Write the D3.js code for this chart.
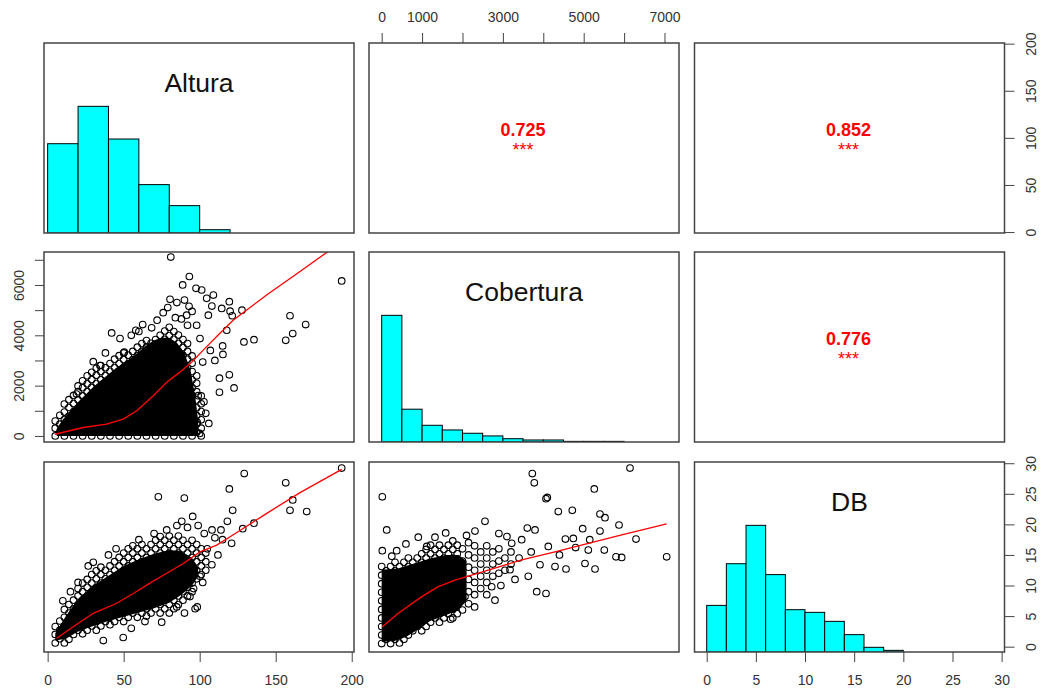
<!DOCTYPE html>
<html>
<head>
<meta charset="utf-8">
<script src="https://cdnjs.cloudflare.com/ajax/libs/d3/7.8.5/d3.min.js"></script>
<style>
  body { margin: 0; background: #fff; }
  text { font-family: "Liberation Sans", Arial, sans-serif; }
</style>
</head>
<body>
<div id="pairs"></div>
<script>
// variable names on the diagonal
var varNames = ["Altura", "Cobertura", "DB"];

// correlations (upper panels): [row, col, r, stars]
var corrs = [[0, 1, "0.725", "***"], [0, 2, "0.852", "***"], [1, 2, "0.776", "***"]];

// histograms, bar heights relative to the tallest bar
var alturaBreaks = [0, 20, 40, 60, 80, 100, 120];
var alturaHist = [0.705, 1, 0.742, 0.382, 0.216, 0.026];
var coberturaBreaks = [0, 500, 1000, 1500, 2000, 2500, 3000, 3500, 4000, 4500, 5000, 5500, 6000];
var coberturaHist = [1, 0.259, 0.132, 0.095, 0.069, 0.048, 0.026, 0.016, 0.016, 0.005, 0.005, 0.005];
var dbBreaks = [0, 2, 4, 6, 8, 10, 12, 14, 16, 18, 20];
var dbHist = [0.368, 0.697, 1, 0.611, 0.334, 0.313, 0.242, 0.137, 0.037, 0.013];

// tick values and the ones that get a label
var alturaTicks = [0, 50, 100, 150, 200];
var coberturaTicks = [0, 1000, 2000, 3000, 4000, 5000, 6000, 7000];
var coberturaTopLabels = [0, 1000, 3000, 5000, 7000];
var coberturaLeftLabels = [0, 2000, 4000, 6000];
var dbTicks = [0, 5, 10, 15, 20, 25, 30];

// Altura vs Cobertura
// core: outline of the overplotted area where the circles merge into solid black
var altCobCore = [[6, 0], [6, 300], [10, 650], [15, 1000], [20, 1350], [25, 1650], [30, 1950], [35, 2200],
  [40, 2450], [45, 2700], [50, 2900], [55, 3100], [60, 3350], [65, 3600], [70, 3800], [75, 3900], [80, 3900],
  [85, 3700], [90, 3300], [94, 2600], [97, 1600], [99, 600], [99, 0]];
// cloud as [Altura, [Cobertura values]] columns
var altCobCloud = [
  [5, [0, 310, 590]],
  [8, [150, 470, 820]],
  [11, [0, 330, 650, 950, 1270]],
  [14, [170, 480, 790, 1130, 1440]],
  [17, [0, 320, 630, 960, 1290, 1610]],
  [20, [160, 490, 800, 1110, 1440, 1760, 1990]],
  [23, [0, 330, 640, 970, 1280, 1590, 1920, 2190]],
  [26, [150, 480, 810, 1120, 1450, 1760, 2070, 2390]],
  [29, [0, 320, 650, 960, 1270, 1600, 1930, 2240, 2530]],
  [32, [170, 470, 800, 1130, 1440, 1750, 2080, 2410, 2690]],
  [35, [0, 330, 640, 950, 1280, 1610, 1920, 2230, 2560, 2800]],
  [38, [160, 490, 790, 1120, 1450, 1760, 2090, 2400, 2710]],
  [41, [0, 310, 640, 970, 1280, 1590, 1920, 2250, 2570, 2880]],
  [44, [150, 480, 810, 1110, 1440, 1770, 2080, 2390, 2720, 3050]],
  [47, [0, 330, 650, 960, 1270, 1600, 1930, 2240, 2550, 2880, 3190]],
  [50, [170, 480, 790, 1120, 1450, 1760, 2070, 2400, 2730, 3040, 3300]],
  [53, [0, 320, 640, 950, 1290, 1600, 1910, 2240, 2570, 2880, 3210]],
  [56, [160, 470, 800, 1130, 1440, 1750, 2080, 2410, 2720, 3030, 3360]],
  [59, [0, 330, 650, 960, 1270, 1590, 1920, 2250, 2560, 2870, 3200, 3530]],
  [62, [150, 490, 800, 1110, 1440, 1770, 2080, 2390, 2720, 3050, 3360, 3670]],
  [65, [0, 310, 640, 970, 1280, 1590, 1920, 2250, 2560, 2870, 3200, 3530, 3790]],
  [68, [170, 480, 790, 1120, 1450, 1760, 2070, 2400, 2730, 3040, 3350, 3680]],
  [71, [0, 320, 650, 960, 1270, 1600, 1930, 2240, 2550, 2880, 3210, 3520, 3830]],
  [74, [160, 490, 800, 1110, 1440, 1770, 2080, 2390, 2720, 3050, 3360, 3670, 4000]],
  [77, [0, 330, 640, 950, 1280, 1610, 1920, 2230, 2560, 2890, 3200, 3510, 3840, 4170]],
  [80, [150, 480, 810, 1120, 1430, 1760, 2090, 2400, 2710, 3040, 3370, 3680, 3990, 4320]],
  [83, [0, 310, 640, 970, 1280, 1590, 1920, 2250, 2560, 2870, 3200, 3530, 3840, 4150]],
  [86, [170, 480, 790, 1120, 1450, 1760, 2070, 2400, 2730, 3040, 3350, 3680, 4010]],
  [89, [0, 320, 650, 960, 1270, 1600, 1930, 2240, 2550, 2880, 3210, 3520, 3830]],
  [92, [160, 490, 800, 1110, 1440, 1770, 2080, 2390, 2720, 3050, 3360, 3670]],
  [95, [0, 330, 640, 950, 1280, 1610, 1920, 2230, 2560, 2890, 3180]],
  [98, [150, 480, 810, 1120, 1430, 1760, 2090, 2390]],
  [101, [0, 310, 640, 970, 1280, 1590]]
];
// scattered points
var altCobPts = [[81, 7108], [93.2, 6336], [88.8, 6000], [80.5, 5428], [97.6, 5868], [101.3, 5800], [109, 5600],
  [104.6, 5468], [108, 5160], [119.5, 5336], [114.5, 5068], [120, 4960], [121.4, 4776], [127.8, 5000], [105.7, 4800],
  [193.4, 6160], [159.4, 4776], [169.7, 4428], [161.2, 4068], [156.6, 3800], [135.7, 3828], [129.1, 3736], [117.8, 4200],
  [115.3, 3240], [115.1, 3576], [119.5, 2428], [113, 2296], [122.6, 1908], [113, 1736], [102.8, 1360], [102, 2936],
  [98.4, 536], [95.8, 200], [62.5, 4428], [68.4, 4296], [42.1, 4096], [47.6, 3868], [50.4, 3336], [34.4, 2800],
  [19, 1668], [91.4, 4800], [88, 4650], [98, 4400], [100.2, 3868], [85, 5300], [90, 5400], [93, 5150], [95, 4950],
  [84, 4700], [92, 4400], [30, 2950], [38, 3300], [55, 4000], [60, 4150], [104, 900], [100, 100], [106, 500],
  [99, 1600], [110, 3000], [107, 3400], [58, 4200], [72, 4600], [76, 4900], [79, 5100]];
var altCobLine = [[4.8, 68], [23.4, 336], [38.8, 468], [49.7, 668], [58.6, 1000], [69.5, 1600], [78.3, 2136],
  [87, 2536], [95, 2950], [103, 3450], [112, 4000], [122, 4600], [144, 5600], [166, 6536], [193, 7700]];

// Altura vs DB
var altDbCore = [[5, 2.2], [12, 5], [20, 7.8], [30, 10], [40, 11.6], [50, 13.2], [60, 14.3], [70, 15.2],
  [80, 15.8], [88, 15.6], [95, 14.5], [99, 13], [99, 11.5], [95, 10], [88, 8.5], [80, 7.2], [70, 6.3], [60, 5.6],
  [50, 4.9], [40, 4.2], [30, 3.4], [20, 2.5], [12, 1.3], [5, 1.0]];
var altDbCloud = [
  [5, [0.6, 2.0, 3.3]],
  [8, [1.3, 2.7, 4.2]],
  [11, [0.6, 2.0, 3.4, 4.8, 6.1]],
  [14, [1.2, 2.7, 4.1, 5.5, 6.9]],
  [17, [2.0, 3.4, 4.8, 6.2, 7.6]],
  [20, [2.7, 4.1, 5.5, 6.9, 8.3, 9.5]],
  [23, [2.1, 3.4, 4.8, 6.2, 7.6, 9.0, 10.4]],
  [26, [2.7, 4.1, 5.5, 6.9, 8.3, 9.7, 11.0]],
  [29, [3.4, 4.8, 6.2, 7.6, 9.0, 10.4, 11.8]],
  [32, [2.7, 4.1, 5.5, 6.9, 8.3, 9.7, 11.1, 12.4]],
  [35, [3.4, 4.8, 6.2, 7.6, 9.0, 10.4, 11.8, 13.0]],
  [38, [4.1, 5.5, 6.9, 8.3, 9.7, 11.1, 12.5]],
  [41, [3.6, 4.8, 6.2, 7.6, 9.0, 10.4, 11.8, 13.2]],
  [44, [4.1, 5.5, 6.9, 8.3, 9.7, 11.1, 12.5, 13.9]],
  [47, [4.8, 6.2, 7.6, 9.0, 10.4, 11.8, 13.2, 14.6]],
  [50, [4.1, 5.5, 6.9, 8.3, 9.7, 11.1, 12.5, 13.9, 15.3]],
  [53, [4.8, 6.2, 7.6, 9.0, 10.4, 11.8, 13.2, 14.6, 16.0]],
  [56, [5.5, 6.9, 8.3, 9.7, 11.1, 12.5, 13.9, 15.3, 16.5]],
  [59, [4.8, 6.2, 7.6, 9.0, 10.4, 11.8, 13.2, 14.6, 16.0]],
  [62, [5.5, 6.9, 8.3, 9.7, 11.1, 12.5, 13.9, 15.3, 16.7]],
  [65, [5.0, 6.2, 7.6, 9.0, 10.4, 11.8, 13.2, 14.6, 16.0]],
  [68, [5.5, 6.9, 8.3, 9.7, 11.1, 12.5, 13.9, 15.3, 16.7]],
  [71, [6.2, 7.6, 9.0, 10.4, 11.8, 13.2, 14.6, 16.0, 17.4]],
  [74, [5.5, 6.9, 8.3, 9.7, 11.1, 12.5, 13.9, 15.3, 16.7, 18.0]],
  [77, [6.2, 7.6, 9.0, 10.4, 11.8, 13.2, 14.6, 16.0, 17.4]],
  [80, [5.5, 6.9, 8.3, 9.7, 11.1, 12.5, 13.9, 15.3, 16.7, 18.1]],
  [83, [6.2, 7.6, 9.0, 10.4, 11.8, 13.2, 14.6, 16.0, 17.4]],
  [86, [6.9, 8.3, 9.7, 11.1, 12.5, 13.9, 15.3, 16.7, 18.1]],
  [89, [7.6, 9.0, 10.4, 11.8, 13.2, 14.6, 16.0, 17.4]],
  [92, [8.3, 9.7, 11.1, 12.5, 13.9, 15.3, 16.7]],
  [95, [9.0, 10.4, 11.8, 13.2, 14.6, 16.0, 17.4]],
  [98, [11.1, 12.5, 13.9, 15.3, 16.7]],
  [101, [11.8, 13.2, 14.6, 16.0]],
  [104, [12.5, 13.9, 15.3]]
];
var altDbPts = [[72.8, 24.5], [89.9, 24.3], [129.3, 28.3], [119.5, 25.8], [121.7, 22.3], [156.6, 26.8], [161.2, 24],
  [159.4, 22.3], [170.4, 22.1], [193.4, 29.2], [135.7, 20.2], [128.3, 19.3], [118.2, 20.5], [114, 19.1], [121, 16.9],
  [108.1, 19.1], [95.4, 21.3], [88.2, 20.5], [78.3, 19.1], [26.7, 13.2], [98.4, 6.5], [97, 6.2], [93.6, 8.2],
  [84.9, 6.5], [64, 4.1], [49.7, 1.5], [36.6, 1], [100.2, 11.5], [108, 13.4], [105, 16], [112, 15], [103, 18.5],
  [99, 19.8], [92, 19.5], [85, 19.8], [70, 18.5], [60, 17.5], [45, 16], [40, 15], [30, 13.8], [20, 10.5], [15, 9],
  [10, 7.5], [110, 17.8], [115, 17.5], [55, 3], [75, 4], [90, 5.5], [96, 9.5], [102, 10.5]];
var altDbLine = [[5.9, 1.37], [16.8, 3.27], [30, 5.46], [45.4, 7.1], [56.3, 8.7], [67.3, 10.4], [78.3, 12],
  [89.2, 13.6], [100.2, 15.5], [111.2, 16.6], [122.1, 18.3], [144.1, 21.8], [166, 25.2], [193.4, 29]];

// Cobertura vs DB
var cobDbCore = [[0, 12.6], [400, 12.8], [800, 13.6], [1200, 14.4], [1600, 15], [1900, 15], [2100, 14],
  [2100, 7.5], [1900, 6], [1600, 5.2], [1200, 4.2], [900, 2.8], [600, 1.6], [300, 0.9], [0, 0.8]];
var cobDbCloud = [
  [0, [0.5, 1.9, 3.3, 4.7, 6.1, 7.5, 8.9, 10.3, 11.7, 13.1]],
  [110, [1.2, 2.6, 4.0, 5.4, 6.8, 8.2, 9.6, 11.0, 12.4]],
  [220, [0.5, 1.9, 3.3, 4.7, 6.1, 7.5, 8.9, 10.3, 11.7, 13.1]],
  [330, [1.2, 2.6, 4.0, 5.4, 6.8, 8.2, 9.6, 11.0, 12.4, 13.8]],
  [440, [0.6, 1.9, 3.3, 4.7, 6.1, 7.5, 8.9, 10.3, 11.7, 13.1]],
  [550, [1.2, 2.6, 4.0, 5.4, 6.8, 8.2, 9.6, 11.0, 12.4, 13.8]],
  [660, [1.9, 3.3, 4.7, 6.1, 7.5, 8.9, 10.3, 11.7, 13.1, 14.5]],
  [770, [2.6, 4.0, 5.4, 6.8, 8.2, 9.6, 11.0, 12.4, 13.8]],
  [880, [3.3, 4.7, 6.1, 7.5, 8.9, 10.3, 11.7, 13.1, 14.5]],
  [990, [2.6, 4.0, 5.4, 6.8, 8.2, 9.6, 11.0, 12.4, 13.8, 15.2]],
  [1100, [3.3, 4.7, 6.1, 7.5, 8.9, 10.3, 11.7, 13.1, 14.5, 15.9]],
  [1210, [4.0, 5.4, 6.8, 8.2, 9.6, 11.0, 12.4, 13.8, 15.2, 16.6]],
  [1320, [4.7, 6.1, 7.5, 8.9, 10.3, 11.7, 13.1, 14.5, 15.9]],
  [1430, [4.0, 5.4, 6.8, 8.2, 9.6, 11.0, 12.4, 13.8, 15.2, 16.6]],
  [1540, [4.7, 6.1, 7.5, 8.9, 10.3, 11.7, 13.1, 14.5, 15.9]],
  [1650, [5.4, 6.8, 8.2, 9.6, 11.0, 12.4, 13.8, 15.2, 16.6]],
  [1760, [4.7, 6.1, 7.5, 8.9, 10.3, 11.7, 13.1, 14.5, 15.9, 17.3]],
  [1870, [5.4, 6.8, 8.2, 9.6, 11.0, 12.4, 13.8, 15.2, 16.6]],
  [2000, [6.0, 8.0, 10.0, 12.0, 14.0, 16.0]],
  [2150, [7.0, 9.0, 11.0, 13.0, 15.0, 17.0]],
  [2300, [6.5, 8.5, 10.5, 12.5, 14.5, 16.5]],
  [2450, [9.5, 11.5, 13.5, 15.5]],
  [2600, [10.5, 12.5, 14.5, 16.5]],
  [2750, [11.5, 13.5, 15.5]],
  [2900, [12.0, 14.0, 16.0]],
  [3050, [12.5, 14.5]],
  [3200, [13.5, 15.5]]
];
var cobDbPts = [[15, 24.5], [124, 19.1], [15, 15.7], [3728, 28.3], [3777, 26.8], [4067, 24.2], [4100, 24.4],
  [6146, 29.2], [5262, 25.8], [5403, 21.7], [5527, 21.1], [4371, 22.1], [4718, 22.3], [5874, 19.9], [6295, 17.6],
  [7054, 14.7], [2557, 20.5], [2309, 18.9], [1584, 18.6], [1319, 17.9], [906, 17.9], [1114, 16.4], [371, 15.7],
  [1708, 4.5], [3837, 9], [4067, 8.7], [5280, 12.7], [4975, 19.3], [5403, 18.9], [5800, 14.7], [5940, 14.6],
  [4547, 17.6], [4743, 17.7], [5114, 15.8], [5032, 13.6], [5510, 15.8], [4562, 12.7], [4290, 13.1], [3918, 13.4],
  [3629, 11.5], [3465, 17.5], [3795, 19.1], [4124, 16.4], [3218, 16.9], [3176, 12.6], [2804, 7.6], [2722, 9.8],
  [2062, 8.2], [3604, 19.4], [4800, 16.2], [5150, 17.5], [4400, 15], [3400, 14.5], [3700, 15.5], [3300, 11],
  [2950, 10], [2600, 8.5], [600, 16.8], [250, 14.8], [2100, 18.2], [2900, 18.5], [3100, 18]];
var cobDbLine = [[15, 3.27], [411, 5.46], [990, 8.18], [1401, 9.82], [1814, 10.9], [2639, 12.5], [3465, 14.2],
  [4290, 15.5], [5114, 16.9], [5941, 18.3], [7054, 20.1]];

// layout
var width = 1043, height = 690;
var colX = [44, 369, 694.5], rowY = [43, 252, 462];
var pw = 310, ph = 190;

var svg = d3.select("#pairs").append("svg")
    .attr("width", width)
    .attr("height", height);

svg.append("defs").append("clipPath")
    .attr("id", "panel-clip")
  .append("rect")
    .attr("width", pw)
    .attr("height", ph);

// scales (one per variable and direction)
var xAlt = d3.scaleLinear().domain([-2.4, 201.5]).range([0, pw]),
    xCob = d3.scaleLinear().domain([-314, 7359]).range([0, pw]),
    xDb = d3.scaleLinear().domain([-1.24, 30.29]).range([0, pw]),
    yAlt = d3.scaleLinear().domain([-1, 200.7]).range([ph, 0]),
    yCob = d3.scaleLinear().domain([-240, 7310]).range([ph, 0]),
    yDb = d3.scaleLinear().domain([-0.87, 30.2]).range([ph, 0]),
    yHist = d3.scaleLinear().domain([0, 1.5]).range([ph, 0]);

function panel(r, c) {
  var g = svg.append("g")
      .attr("transform", "translate(" + colX[c] + "," + rowY[r] + ")");
  var inner = g.append("g").attr("clip-path", "url(#panel-clip)");
  return {outer: g, inner: inner};
}

function frame(p) {
  p.outer.append("rect")
      .attr("width", pw)
      .attr("height", ph)
      .attr("fill", "none")
      .attr("stroke", "#444")
      .attr("stroke-width", 1.5);
}

// flatten a column cloud and add the scattered points
function allPoints(cloud, extra) {
  var pts = [];
  cloud.forEach(function(col) {
    col[1].forEach(function(v) { pts.push([col[0], v]); });
  });
  return pts.concat(extra);
}

function scatter(r, c, xs, ys, core, pts, line) {
  var p = panel(r, c);
  var path = d3.line()
      .x(function(d) { return xs(d[0]); })
      .y(function(d) { return ys(d[1]); });
  // overplotted core
  p.inner.append("path")
      .datum(core)
      .attr("fill", "#000")
      .attr("d", function(d) { return path(d) + "Z"; });
  p.inner.selectAll("circle")
      .data(pts)
    .enter().append("circle")
      .attr("cx", function(d) { return xs(d[0]); })
      .attr("cy", function(d) { return ys(d[1]); })
      .attr("r", 3.3)
      .attr("fill", "none")
      .attr("stroke", "#000")
      .attr("stroke-width", 1.1);
  p.inner.append("path")
      .datum(line)
      .attr("fill", "none")
      .attr("stroke", "#ff0000")
      .attr("stroke-width", 1.3)
      .attr("d", path);
  frame(p);
}

function histPanel(i, xs, breaks, hts) {
  var p = panel(i, i);
  p.inner.selectAll("rect.bar")
      .data(hts)
    .enter().append("rect")
      .attr("class", "bar")
      .attr("x", function(d, j) { return xs(breaks[j]); })
      .attr("width", function(d, j) { return xs(breaks[j + 1]) - xs(breaks[j]); })
      .attr("y", function(d) { return yHist(d); })
      .attr("height", function(d) { return yHist(0) - yHist(d); })
      .attr("fill", "#00ffff")
      .attr("stroke", "#000")
      .attr("stroke-width", 1);
  p.outer.append("text")
      .attr("x", pw / 2)
      .attr("y", 48.5)
      .attr("text-anchor", "middle")
      .attr("font-size", 26.5)
      .attr("fill", "#111")
      .text(varNames[i]);
  frame(p);
}

function corrPanel(d) {
  var p = panel(d[0], d[1]);
  p.outer.append("text")
      .attr("x", 154)
      .attr("y", 93)
      .attr("text-anchor", "middle")
      .attr("font-size", 18)
      .attr("font-weight", "bold")
      .attr("fill", "#ff0000")
      .text(d[2]);
  p.outer.append("text")
      .attr("x", 154)
      .attr("y", 113)
      .attr("text-anchor", "middle")
      .attr("font-size", 18)
      .attr("fill", "#ff0000")
      .text(d[3]);
  frame(p);
}

// diagonal
histPanel(0, xAlt, alturaBreaks, alturaHist);
histPanel(1, xCob, coberturaBreaks, coberturaHist);
histPanel(2, xDb, dbBreaks, dbHist);

// lower panels
scatter(1, 0, xAlt, yCob, altCobCore, allPoints(altCobCloud, altCobPts), altCobLine);
scatter(2, 0, xAlt, yDb, altDbCore, allPoints(altDbCloud, altDbPts), altDbLine);
scatter(2, 1, xCob, yDb, cobDbCore, allPoints(cobDbCloud, cobDbPts), cobDbLine);

// upper panels
corrs.forEach(corrPanel);

// axes
function styleAxis(g) {
  g.select(".domain").remove();
  g.selectAll(".tick line").attr("stroke", "#444");
  g.attr("font-size", 14)
   .attr("font-family", "Liberation Sans, Arial, sans-serif");
  g.selectAll(".tick text").attr("fill", "#333");
}

function labelIf(list) {
  return function(d) { return list.indexOf(d) >= 0 ? d : ""; };
}

// top, Cobertura
svg.append("g")
    .attr("transform", "translate(" + colX[1] + "," + rowY[0] + ")")
    .call(d3.axisTop(xCob).tickValues(coberturaTicks).tickSize(10).tickPadding(11)
      .tickFormat(labelIf(coberturaTopLabels)))
    .call(styleAxis);

// bottom, Altura and DB
svg.append("g")
    .attr("transform", "translate(" + colX[0] + "," + (rowY[2] + ph) + ")")
    .call(d3.axisBottom(xAlt).tickValues(alturaTicks).tickSize(10).tickPadding(13))
    .call(styleAxis);
svg.append("g")
    .attr("transform", "translate(" + colX[2] + "," + (rowY[2] + ph) + ")")
    .call(d3.axisBottom(xDb).tickValues(dbTicks).tickSize(10).tickPadding(13))
    .call(styleAxis);

// vertical axes with labels parallel to the axis
function rotateLabels(g, dx) {
  g.selectAll(".tick text")
      .attr("x", 0)
      .attr("dy", null)
      .attr("text-anchor", "middle")
      .attr("transform", "translate(" + dx + ",0) rotate(-90)");
}

// left, Cobertura
svg.append("g")
    .attr("transform", "translate(" + colX[0] + "," + rowY[1] + ")")
    .call(d3.axisLeft(yCob).tickValues(coberturaTicks).tickSize(9)
      .tickFormat(labelIf(coberturaLeftLabels)))
    .call(styleAxis)
    .call(rotateLabels, -20.5);

// right, Altura and DB
svg.append("g")
    .attr("transform", "translate(" + (colX[2] + pw) + "," + rowY[0] + ")")
    .call(d3.axisRight(yAlt).tickValues(alturaTicks).tickSize(10))
    .call(styleAxis)
    .call(rotateLabels, 31);
svg.append("g")
    .attr("transform", "translate(" + (colX[2] + pw) + "," + rowY[2] + ")")
    .call(d3.axisRight(yDb).tickValues(dbTicks).tickSize(10))
    .call(styleAxis)
    .call(rotateLabels, 31);
</script>
</body>
</html>
